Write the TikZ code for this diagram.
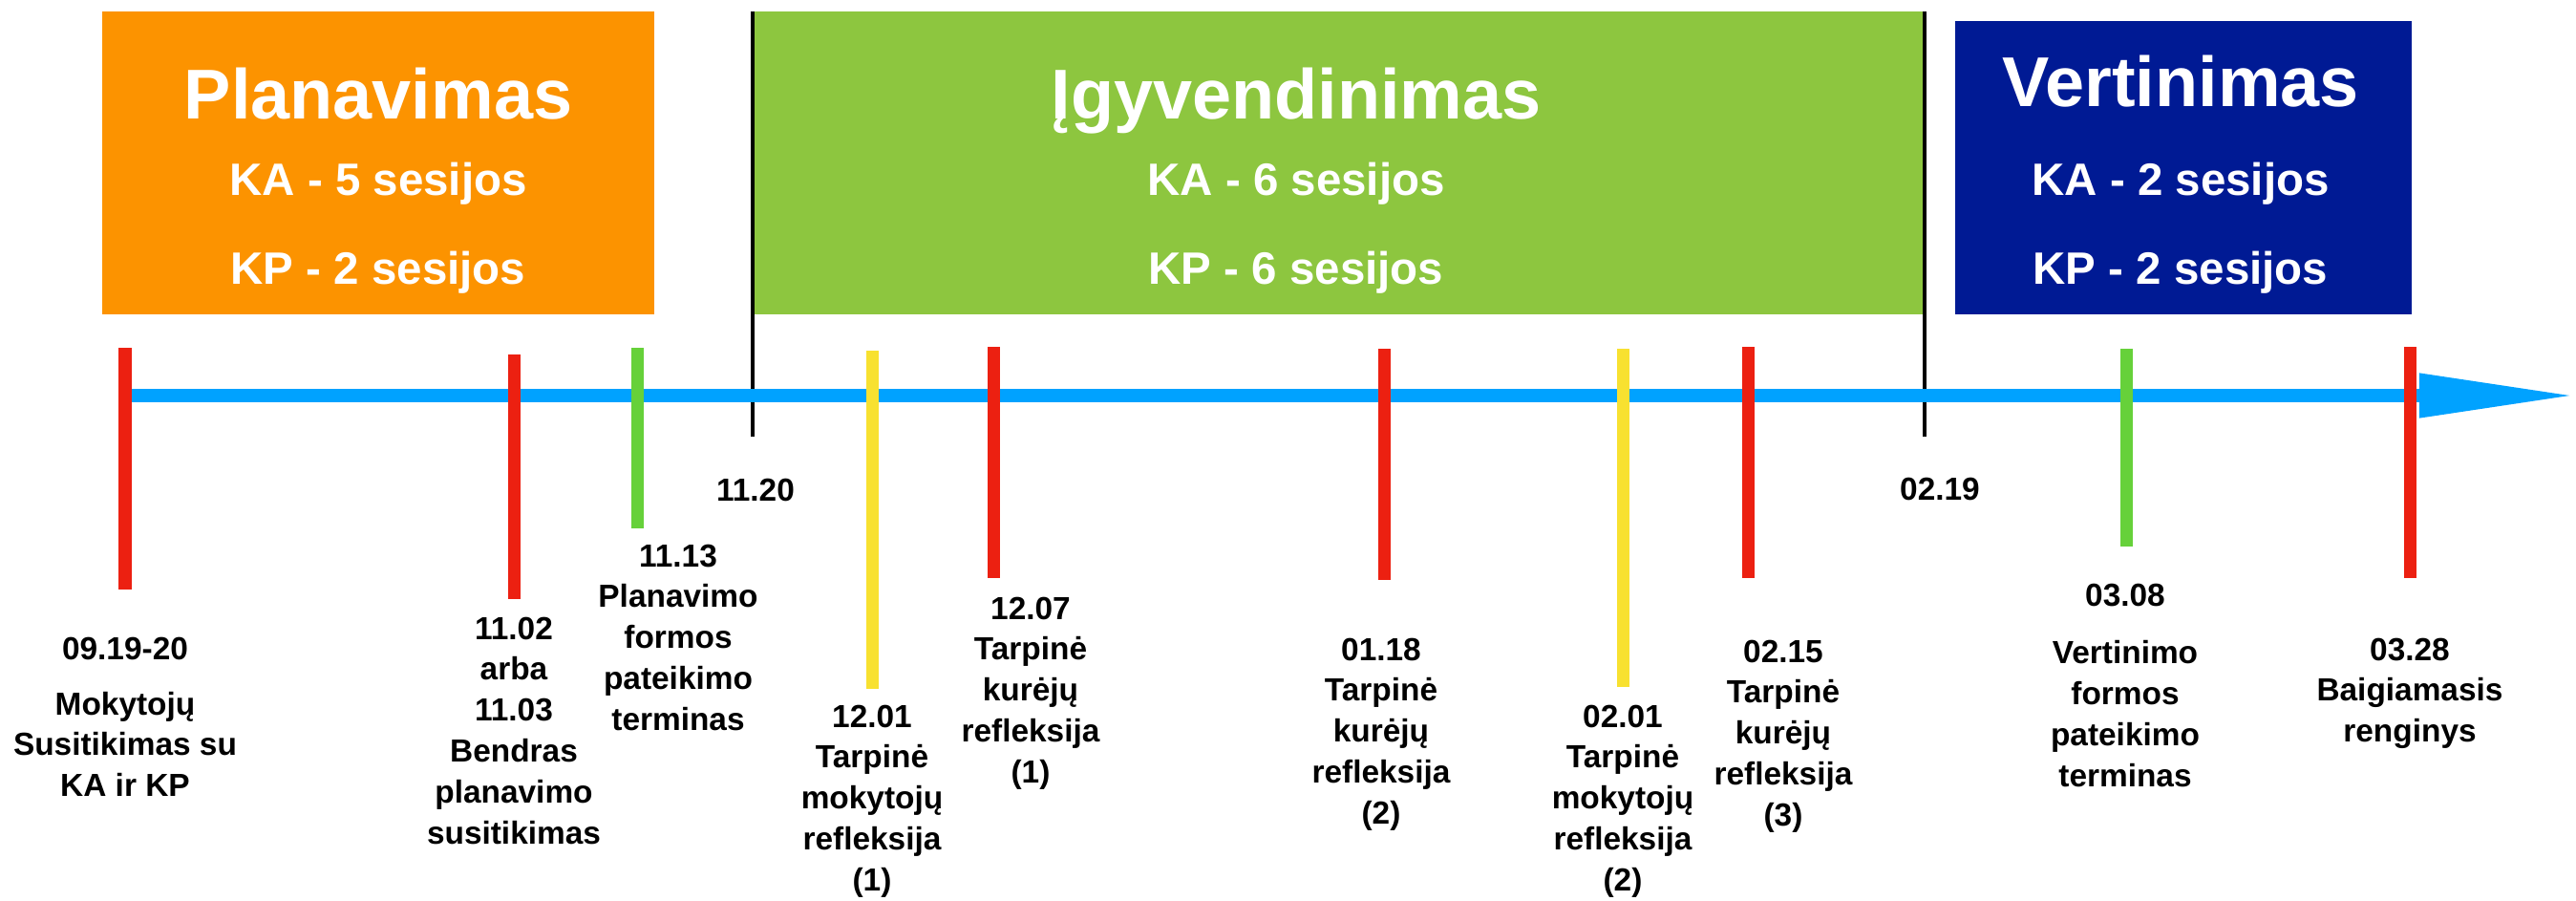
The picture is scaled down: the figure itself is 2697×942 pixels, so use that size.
\documentclass[tikz,border=0pt]{standalone}
\usepackage{fontspec}
\setmainfont{Liberation Sans}
\usepackage{xcolor}
\definecolor{PlanOrange}{HTML}{FC9300}
\definecolor{ImplGreen}{HTML}{8DC63F}
\definecolor{EvalBlue}{HTML}{001A94}
\definecolor{AxisBlue}{HTML}{00A2FF}
\definecolor{TickRed}{HTML}{EC2011}
\definecolor{TickYellow}{HTML}{F8E130}
\definecolor{TickGreen}{HTML}{66D13A}
\usepackage{tikz}
\usetikzlibrary{arrows.meta,positioning}
\newcommand\AxisY{414}
\newcommand\TitleY{124}
\newcommand\KAY{204}
\newcommand\KPY{297}
\newcommand\PhaseEnd{457}
\tikzstyle{phase}=[rectangle,inner sep=0pt,minimum height=3.17cm]
\tikzstyle{title}=[text=white,anchor=base,inner sep=0pt,
                     font=\fontsize{21}{25}\selectfont\bfseries]
\tikzstyle{sessions}=[text=white,anchor=base,inner sep=0pt,
                     font=\fontsize{13.5}{16}\selectfont\bfseries]
\tikzstyle{event}=[align=center,anchor=north,inner sep=0pt,
                     font=\fontsize{9.5}{12.2}\selectfont\bfseries]
\tikzstyle{date}=[inner sep=0pt,font=\fontsize{9.5}{12.2}\selectfont\bfseries]
\tikzstyle{tickmark}=[line width=0.13cm]
\tikzstyle{border}=[line width=0.04cm,black]

\begin{document}
\begin{tikzpicture}[x=0.01cm,y=-0.01cm]
      \useasboundingbox (0,0) rectangle (2697,942);
      % phases
      \node[phase,minimum width=5.78cm] (planbox) at (396,170.5) [fill=PlanOrange] {};
      \node[phase,minimum width=12.28cm] (implbox) at (1402,170.5) [fill=ImplGreen] {};
      \node[phase,minimum width=4.78cm,minimum height=3.07cm] (evalbox) at (2286,175.5) [fill=EvalBlue] {};
      \node[title] (plan) at (396,\TitleY) {Planavimas};
      \node[sessions] (planka) at (396,\KAY) {KA - 5 sesijos};
      \node[sessions] (plankp) at (396,\KPY) {KP - 2 sesijos};
      \node[title] (impl) at (1357,\TitleY) {Įgyvendinimas};
      \node[sessions] (implka) at (1357,\KAY) {KA - 6 sesijos};
      \node[sessions] (implkp) at (1357,\KPY) {KP - 6 sesijos};
      \node[title] (eval) at (2283,111) {Vertinimas};
      \node[sessions] (evalka) at (2283,\KAY) {KA - 2 sesijos};
      \node[sessions] (evalkp) at (2283,\KPY) {KP - 2 sesijos};
      \draw[border] (788,12) -- (788,\PhaseEnd);
      \draw[border] (2015,12) -- (2015,\PhaseEnd);
      \node[date] (start) at (791,513) {11.20};
      \node[date] (finish) at (2031,512) {02.19};
      % time axis
      \draw[AxisBlue,line width=0.14cm,-{Triangle[length=1.64cm,width=0.43cm]}] (131,\AxisY) -- (2697,\AxisY);
      \draw[tickmark,TickRed] (131,364) -- (131,617);
      \draw[tickmark,TickRed] (538,371) -- (538,627);
      \draw[tickmark,TickGreen] (667,364) -- (667,553);
      \draw[tickmark,TickYellow] (913,367) -- (913,721);
      \draw[tickmark,TickRed] (1040,363) -- (1040,605);
      \draw[tickmark,TickRed] (1449,365) -- (1449,607);
      \draw[tickmark,TickYellow] (1699,365) -- (1699,719);
      \draw[tickmark,TickRed] (1830,363) -- (1830,605);
      \draw[tickmark,TickGreen] (2226,365) -- (2226,572);
      \draw[tickmark,TickRed] (2523,363) -- (2523,605);
      % events
      \node[event] (ev1) at (131,666) {09.19-20\\[4.3pt]Mokytojų\\Susitikimas su\\KA ir KP};
      \node[event] (ev2) at (538,645) {11.02\\arba\\11.03\\Bendras\\planavimo\\susitikimas};
      \node[event] (ev3) at (710,569) {11.13\\Planavimo\\formos\\pateikimo\\terminas};
      \node[event] (ev4) at (913,737) {12.01\\Tarpinė\\mokytojų\\refleksija\\(1)};
      \node[event] (ev5) at (1079,624) {12.07\\Tarpinė\\kurėjų\\refleksija\\(1)};
      \node[event] (ev6) at (1446,667) {01.18\\Tarpinė\\kurėjų\\refleksija\\(2)};
      \node[event] (ev7) at (1699,737) {02.01\\Tarpinė\\mokytojų\\refleksija\\(2)};
      \node[event] (ev8) at (1867,669) {02.15\\Tarpinė\\kurėjų\\refleksija\\(3)};
      \node[event] (ev9) at (2225,610) {03.08\\[5pt]Vertinimo\\formos\\pateikimo\\terminas};
      \node[event] (ev10) at (2523,667) {03.28\\Baigiamasis\\renginys};
\end{tikzpicture}
\end{document}
